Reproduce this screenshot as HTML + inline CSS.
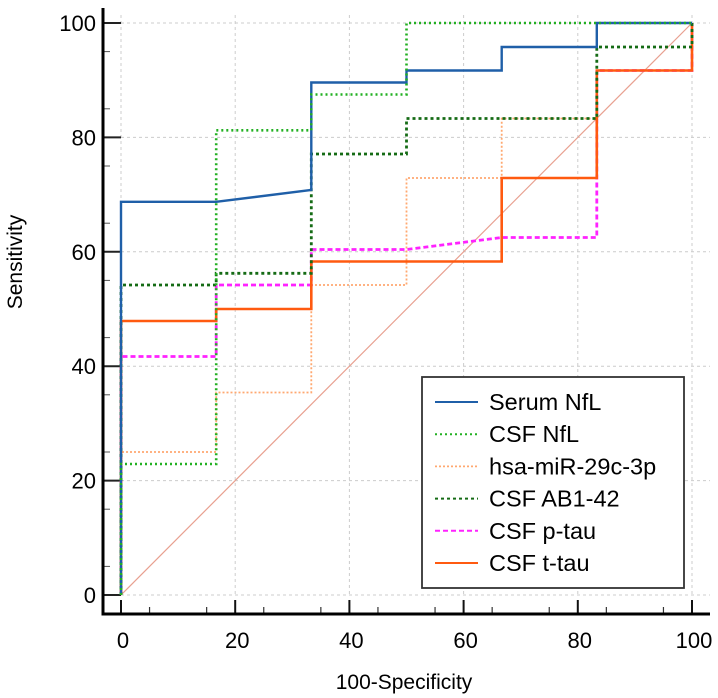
<!DOCTYPE html>
<html><head><meta charset="utf-8"><style>
body{margin:0;background:#fff;width:718px;height:698px;overflow:hidden}
svg{display:block;font-family:"Liberation Sans",Arial,sans-serif}
</style></head><body>
<svg id="chart" width="718" height="698" viewBox="0 0 718 698">
<g id="grid"></g>
<g id="axes"></g>
<g id="series"></g>
<g id="legend"></g>
<text x="404" y="689" text-anchor="middle" font-size="21" fill="#000">100-Specificity</text>
<text transform="translate(22,262) rotate(-90)" text-anchor="middle" font-size="21" fill="#000">Sensitivity</text>
</svg>
<script>
const xTicks=[0,20,40,60,80,100];
const yTicks=[0,20,40,60,80,100];
const seriesNames=["Serum NfL","CSF NfL","hsa-miR-29c-3p","CSF AB1-42","CSF p-tau","CSF t-tau"];
const serumNfL=[[0,0],[0,68.75],[16.67,68.75],[33.33,70.8],[33.33,89.6],[50,89.6],[50,91.7],[66.67,91.7],[66.67,95.8],[83.33,95.8],[83.33,100],[100,100]];
const csfNfL=[[0,0],[0,22.9],[16.67,22.9],[16.67,81.25],[33.33,81.25],[33.33,87.5],[50,87.5],[50,100],[100,100]];
const mir29c=[[0,0],[0,25],[16.67,25],[16.67,35.4],[33.33,35.4],[33.33,54.2],[50,54.2],[50,72.9],[66.67,72.9],[66.67,83.3],[83.33,83.3],[83.33,91.7],[100,91.7],[100,100]];
const ab142=[[0,0],[0,54.2],[16.67,54.2],[16.67,56.25],[33.33,56.25],[33.33,77.1],[50,77.1],[50,83.3],[83.33,83.3],[83.33,95.8],[100,95.8],[100,100]];
const ptau=[[0,0],[0,41.7],[16.67,41.7],[16.67,54.2],[33.33,54.2],[33.33,60.4],[50,60.4],[66.67,62.5],[83.33,62.5],[83.33,91.7],[100,91.7],[100,100]];
const ttau=[[0,0],[0,47.9],[16.67,47.9],[16.67,50],[33.33,50],[33.33,58.3],[66.67,58.3],[66.67,72.9],[83.33,72.9],[83.33,91.7],[100,91.7],[100,100]];

const NS="http://www.w3.org/2000/svg";
const X0=121,X1=692,Y0=595,Y1=23;
const sx=v=>X0+(X1-X0)*v/100, sy=v=>Y0-(Y0-Y1)*v/100;
function mk(tag,attrs,parent){const e=document.createElementNS(NS,tag);for(const k in attrs)e.setAttribute(k,attrs[k]);parent.appendChild(e);return e;}
const grid=document.getElementById('grid'),axes=document.getElementById('axes'),ser=document.getElementById('series'),leg=document.getElementById('legend');

xTicks.forEach(t=>{
  const g=mk('line',{x1:sx(t),x2:sx(t),y1:15,y2:Y0,stroke:'#ccc','stroke-dasharray':'3,3','stroke-width':1},grid);
  
  
  const tk=mk('line',{x1:sx(t),x2:sx(t),y1:614,y2:600,stroke:'#111','stroke-width':2},axes);
  
  
  const lb=mk('text',{x:sx(t)+2,y:648,'text-anchor':'middle','font-size':22,fill:'#000'},axes);
  lb.textContent=t;
  
  
});
for(let v=5;v<100;v+=10){
  const m=mk('line',{x1:sx(v),x2:sx(v),y1:614,y2:607,stroke:'#333','stroke-width':1.2},axes);
  
  
  const n=mk('line',{x1:102,x2:110,y1:sy(v),y2:sy(v),stroke:'#555','stroke-width':1},axes);
  
  
}
yTicks.forEach(t=>{
  const g=mk('line',{x1:X0,x2:710,y1:sy(t),y2:sy(t),stroke:'#ccc','stroke-dasharray':'3,3','stroke-width':1},grid);
  
  
  const tk=mk('line',{x1:102,x2:X0,y1:sy(t),y2:sy(t),stroke:'#222','stroke-width':2},axes);
  
  
  const lb=mk('text',{x:96,y:sy(t)+8,'text-anchor':'end','font-size':22,fill:'#000'},axes);
  lb.textContent=t;
  
  
});
const ax=mk('path',{d:`M103 8 V614 H710`,fill:'none',stroke:'#000','stroke-width':3},axes);



const diag=mk('line',{x1:sx(0),y1:sy(0),x2:sx(100),y2:sy(100),stroke:'#e8a090','stroke-width':1.2},ser);



const styles=[
 {stroke:'#1f5fa8',w:2.4,dash:''},
 {stroke:'#22b022',w:2.6,dash:'2,3'},
 {stroke:'#ffa870',w:1.8,dash:'2,2'},
 {stroke:'#156b15',w:2.8,dash:'3,3'},
 {stroke:'#ff22ff',w:2.8,dash:'5,3'},
 {stroke:'#ff5a10',w:2.6,dash:''}];
const data=[serumNfL,csfNfL,mir29c,ab142,ptau,ttau];
const slugs=['serum-nfl','csf-nfl','hsa-mir-29c-3p','csf-ab1-42','csf-p-tau','csf-t-tau'];
const order=[2,4,5,3,0,1];
order.forEach(i=>{
  const d=data[i].map((p,j)=>(j?'L':'M')+sx(p[0]).toFixed(1)+' '+sy(p[1]).toFixed(1)).join(' ');
  const p=mk('path',{d:d,fill:'none',stroke:styles[i].stroke,'stroke-width':styles[i].w},ser);
  if(styles[i].dash)p.setAttribute('stroke-dasharray',styles[i].dash);
  
  
});

const box=mk('rect',{x:422,y:377,width:262,height:211,fill:'#fff',stroke:'#333','stroke-width':1.8},leg);


seriesNames.forEach((n,i)=>{
  const y=402+i*32.2;
  const g=mk('g',{},leg);
  
  
  const l=mk('line',{x1:435,x2:478,y1:y,y2:y,stroke:styles[i].stroke,'stroke-width':Math.min(styles[i].w,2)},g);
  if(styles[i].dash)l.setAttribute('stroke-dasharray',styles[i].dash);
  const t=mk('text',{x:489,y:y+8,'font-size':23.5,fill:'#000'},g);
  t.textContent=n;
});
</script>
</body></html>
